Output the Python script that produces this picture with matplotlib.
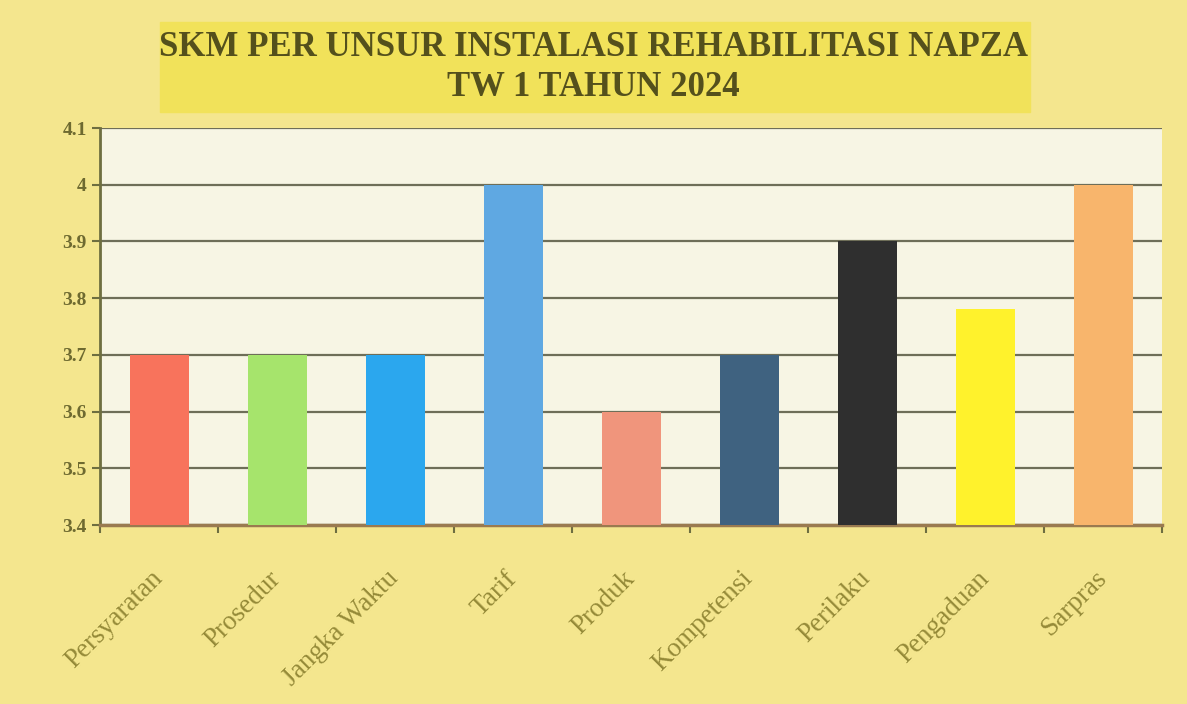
import numpy as np
import matplotlib.pyplot as plt
from matplotlib.ticker import FixedLocator, FuncFormatter

categories = ["Persyaratan", "Prosedur", "Jangka Waktu", "Tarif", "Produk",
              "Kompetensi", "Perilaku", "Pengaduan", "Sarpras"]
values = [3.70, 3.70, 3.70, 4.00, 3.60, 3.70, 3.90, 3.78, 4.00]
bar_colors = ["#f8735c", "#a6e46c", "#2ba7ee", "#5fa8e2", "#f0957c",
              "#3f6280", "#2f2f2f", "#fff22c", "#f8b56c"]
y_ticks = [3.4, 3.5, 3.6, 3.7, 3.8, 3.9, 4.0, 4.1]
title_lines = ["SKM PER UNSUR INSTALASI REHABILITASI NAPZA", "TW 1 TAHUN 2024"]

fig = plt.figure(figsize=(11.87, 7.04), dpi=100)
fig.patch.set_facecolor("#f4e68e")

ax = fig.add_axes([100 / 1187, 1 - 525 / 704, 1062 / 1187, 397 / 704])
ax.set_facecolor("#f7f5e4")

x = np.arange(len(categories))
ax.bar(x, np.array(values) - 3.4, bottom=3.4, width=0.5, color=bar_colors, zorder=3)

ax.set_xlim(-0.5, len(categories) - 0.5)
ax.set_ylim(3.4, 4.1)
ax.yaxis.set_major_locator(FixedLocator(y_ticks))
ax.yaxis.set_major_formatter(FuncFormatter(lambda v, p: f"{v:g}"))
ax.grid(axis="y", color="#6e6e58", linewidth=1.6, zorder=1)

ax.set_xticks(x)
ax.set_xticklabels(categories, rotation=45, ha="right", va="center",
                   rotation_mode="anchor", fontsize=19.5, color="#958a38",
                   family="Liberation Serif")
ax.set_xticks(np.arange(len(categories) + 1) - 0.5, minor=True)
ax.tick_params(axis="x", which="major", length=0, pad=36)
ax.tick_params(axis="x", which="minor", length=6, color="#6e6e40", width=1.5)
ax.tick_params(axis="y", length=6, color="#6e6e40", width=1.5, labelsize=14,
               labelcolor="#6e6a30")
for lab in ax.get_yticklabels():
    lab.set_family("Liberation Serif")
    lab.set_weight("bold")

for side in ["top", "right"]:
    ax.spines[side].set_visible(False)
ax.spines["left"].set_color("#6e6e40")
ax.spines["left"].set_linewidth(2)
ax.spines["bottom"].set_color("#9a7a50")
ax.spines["bottom"].set_linewidth(2.5)

# title band
fig.patches.append(plt.Rectangle((160 / 1187, 1 - 112 / 704), 870 / 1187, 90 / 704,
                                 transform=fig.transFigure, color="#f1e25a",
                                 zorder=0))
fig.text(0.5, 1 - 47 / 704, title_lines[0], ha="center", va="center",
         fontsize=25, fontweight="bold", color="#54501c", family="Liberation Serif")
fig.text(0.5, 1 - 87 / 704, title_lines[1], ha="center", va="center",
         fontsize=25, fontweight="bold", color="#54501c", family="Liberation Serif")

fig.savefig("out.png", dpi=100, facecolor=fig.get_facecolor())
